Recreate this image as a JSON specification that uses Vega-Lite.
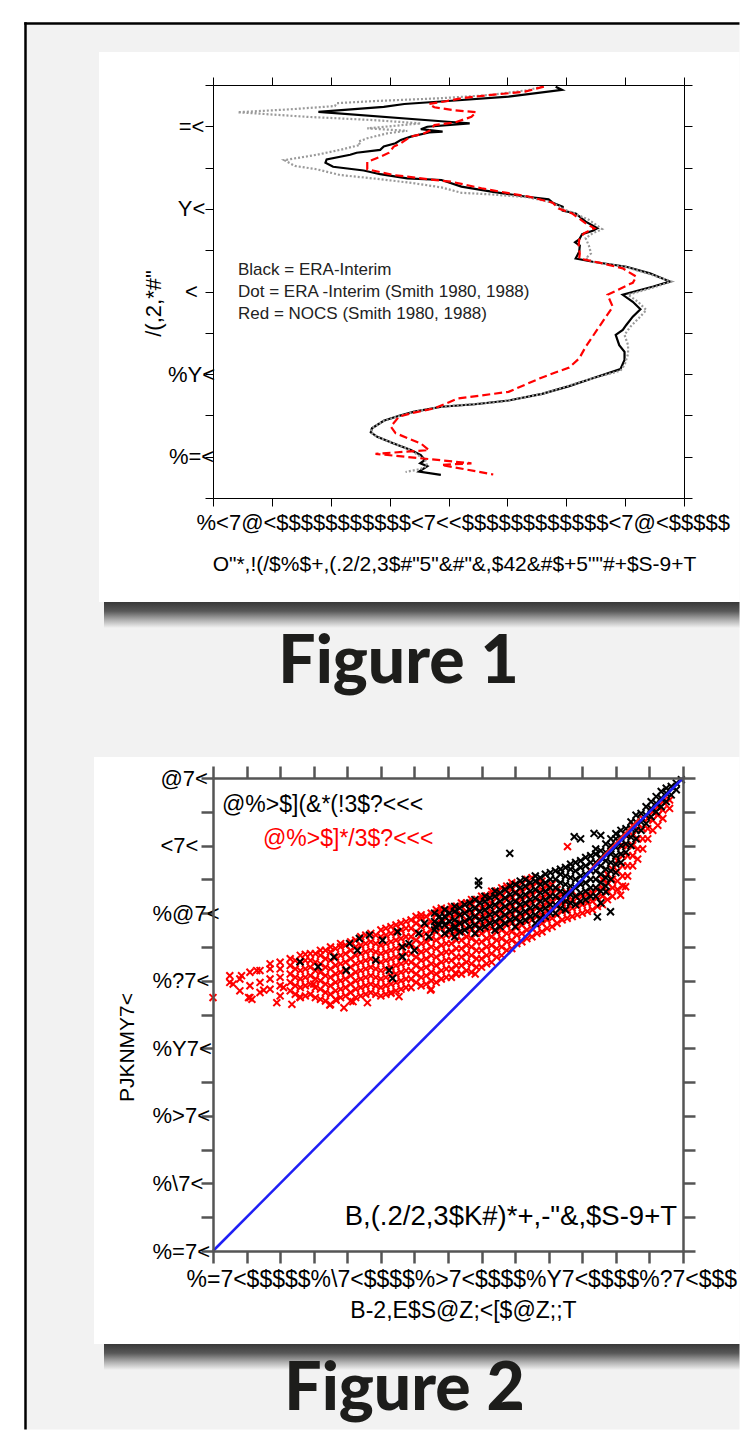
{
  "$schema": "https://vega.github.io/schema/vega-lite/v6.json",
  "padding": 0,
  "background": "white",
  "spacing": 0,
  "config": {
    "view": {"stroke": null},
    "axis": {"grid": false, "labelFont": "Liberation Sans", "titleFont": "Liberation Sans", "labelColor": "black", "titleColor": "black", "titleFontWeight": "normal"}
  },
  "params": [
    {"name": "f1y", "value": ["%=<", "%Y<", "<", "Y<", "=<"]},
    {"name": "f1xrow", "value": "%<7@<$$$$$$$$$$$<7<<$$$$$$$$$$$$<7@<$$$$$"},
    {"name": "f2y", "value": ["%=7<", "%\\7<", "%>7<", "%Y7<", "%?7<", "%@7<", "<7<", "@7<"]},
    {"name": "f2xrow", "value": "%=7<$$$$$%\\7<$$$$%>7<$$$$%Y7<$$$$%?7<$$$"}
  ],
  "datasets": {
    "fig1": [
      {"s":"k","i":1,"x":5.82,"y":49.6},{"s":"k","i":2,"x":5.93,"y":48.8},{"s":"k","i":3,"x":5.02,"y":47.2},{"s":"k","i":4,"x":3.87,"y":46.0},{"s":"k","i":5,"x":3.25,"y":45.4},{"s":"k","i":6,"x":2.90,"y":44.7},{"s":"k","i":7,"x":1.79,"y":43.5},{"s":"k","i":8,"x":3.99,"y":41.1},{"s":"k","i":9,"x":4.36,"y":40.7},{"s":"k","i":10,"x":3.64,"y":39.9},{"s":"k","i":11,"x":3.53,"y":39.3},{"s":"k","i":12,"x":3.90,"y":38.7},{"s":"k","i":13,"x":3.67,"y":38.5},{"s":"k","i":14,"x":3.36,"y":37.5},{"s":"k","i":15,"x":3.19,"y":36.7},{"s":"k","i":16,"x":3.10,"y":35.9},{"s":"k","i":17,"x":2.90,"y":35.1},{"s":"k","i":18,"x":2.84,"y":34.3},{"s":"k","i":19,"x":2.44,"y":33.6},{"s":"k","i":20,"x":2.33,"y":33.1},{"s":"k","i":21,"x":1.93,"y":32.0},{"s":"k","i":22,"x":1.91,"y":31.2},{"s":"k","i":23,"x":2.04,"y":30.2},{"s":"k","i":24,"x":2.56,"y":29.3},{"s":"k","i":25,"x":2.84,"y":28.4},{"s":"k","i":26,"x":3.30,"y":27.4},{"s":"k","i":27,"x":3.88,"y":27.0},{"s":"k","i":28,"x":4.22,"y":25.4},{"s":"k","i":29,"x":4.73,"y":24.2},{"s":"k","i":30,"x":5.30,"y":23.0},{"s":"k","i":31,"x":5.70,"y":22.3},{"s":"k","i":32,"x":5.77,"y":21.5},{"s":"k","i":33,"x":5.94,"y":20.5},{"s":"k","i":34,"x":5.94,"y":19.6},{"s":"k","i":35,"x":6.16,"y":18.9},{"s":"k","i":36,"x":6.33,"y":16.9},{"s":"k","i":37,"x":6.53,"y":15.3},{"s":"k","i":38,"x":6.45,"y":14.7},{"s":"k","i":39,"x":6.27,"y":13.9},{"s":"k","i":40,"x":6.22,"y":12.6},{"s":"k","i":41,"x":6.15,"y":11.9},{"s":"k","i":42,"x":6.23,"y":11.1},{"s":"k","i":43,"x":6.22,"y":9.6},{"s":"k","i":44,"x":6.16,"y":8.0},{"s":"k","i":45,"x":6.45,"y":7.2},{"s":"k","i":46,"x":7.02,"y":6.0},{"s":"k","i":47,"x":7.42,"y":4.4},{"s":"k","i":48,"x":7.76,"y":2.4},{"s":"k","i":49,"x":7.48,"y":1.2},{"s":"k","i":50,"x":6.96,"y":-0.8},{"s":"k","i":51,"x":7.13,"y":-2.5},{"s":"k","i":52,"x":7.26,"y":-4.3},{"s":"k","i":53,"x":7.13,"y":-6.1},{"s":"k","i":54,"x":7.02,"y":-8.1},{"s":"k","i":55,"x":6.96,"y":-9.3},{"s":"k","i":56,"x":6.84,"y":-10.5},{"s":"k","i":57,"x":6.90,"y":-13.0},{"s":"k","i":58,"x":6.99,"y":-14.6},{"s":"k","i":59,"x":6.99,"y":-16.6},{"s":"k","i":60,"x":6.92,"y":-18.8},{"s":"k","i":61,"x":6.73,"y":-19.7},{"s":"k","i":62,"x":6.45,"y":-21.0},{"s":"k","i":63,"x":6.05,"y":-22.9},{"s":"k","i":64,"x":5.59,"y":-24.8},{"s":"k","i":65,"x":5.02,"y":-26.4},{"s":"k","i":66,"x":4.45,"y":-27.3},{"s":"k","i":67,"x":3.88,"y":-27.9},{"s":"k","i":68,"x":3.42,"y":-29.1},{"s":"k","i":69,"x":3.16,"y":-30.1},{"s":"k","i":70,"x":2.90,"y":-31.3},{"s":"k","i":71,"x":2.70,"y":-33.1},{"s":"k","i":72,"x":2.68,"y":-34.1},{"s":"k","i":73,"x":2.79,"y":-35.2},{"s":"k","i":74,"x":3.07,"y":-36.8},{"s":"k","i":75,"x":3.36,"y":-38.4},{"s":"k","i":76,"x":3.53,"y":-39.6},{"s":"k","i":77,"x":3.60,"y":-40.8},{"s":"k","i":78,"x":3.52,"y":-41.6},{"s":"k","i":79,"x":3.64,"y":-42.3},{"s":"k","i":80,"x":3.50,"y":-43.6},{"s":"k","i":81,"x":3.87,"y":-44.4},
      {"s":"d","i":1,"x":5.59,"y":49.6},{"s":"d","i":2,"x":5.36,"y":48.8},{"s":"d","i":3,"x":4.73,"y":47.6},{"s":"d","i":4,"x":3.87,"y":46.8},{"s":"d","i":5,"x":2.73,"y":46.1},{"s":"d","i":6,"x":2.10,"y":45.6},{"s":"d","i":7,"x":2.07,"y":44.9},{"s":"d","i":8,"x":1.30,"y":44.1},{"s":"d","i":9,"x":0.42,"y":43.4},{"s":"d","i":10,"x":1.59,"y":42.3},{"s":"d","i":11,"x":2.73,"y":41.5},{"s":"d","i":12,"x":3.53,"y":40.7},{"s":"d","i":13,"x":2.62,"y":39.5},{"s":"d","i":14,"x":3.30,"y":38.9},{"s":"d","i":15,"x":2.96,"y":38.3},{"s":"d","i":16,"x":2.62,"y":37.1},{"s":"d","i":17,"x":2.47,"y":36.3},{"s":"d","i":18,"x":2.50,"y":35.5},{"s":"d","i":19,"x":2.16,"y":34.3},{"s":"d","i":20,"x":1.76,"y":33.1},{"s":"d","i":21,"x":1.21,"y":31.8},{"s":"d","i":22,"x":1.39,"y":30.4},{"s":"d","i":23,"x":1.76,"y":29.6},{"s":"d","i":24,"x":2.16,"y":28.2},{"s":"d","i":25,"x":2.84,"y":27.2},{"s":"d","i":26,"x":3.42,"y":26.2},{"s":"d","i":27,"x":3.88,"y":25.2},{"s":"d","i":28,"x":4.22,"y":23.9},{"s":"d","i":29,"x":4.73,"y":23.5},{"s":"d","i":30,"x":5.36,"y":22.8},{"s":"d","i":31,"x":5.77,"y":21.5},{"s":"d","i":32,"x":5.96,"y":19.9},{"s":"d","i":33,"x":6.16,"y":18.8},{"s":"d","i":34,"x":6.39,"y":17.3},{"s":"d","i":35,"x":6.61,"y":15.1},{"s":"d","i":36,"x":6.45,"y":14.1},{"s":"d","i":37,"x":6.33,"y":12.9},{"s":"d","i":38,"x":6.39,"y":10.9},{"s":"d","i":39,"x":6.42,"y":9.2},{"s":"d","i":40,"x":6.33,"y":8.0},{"s":"d","i":41,"x":6.45,"y":7.2},{"s":"d","i":42,"x":7.02,"y":5.9},{"s":"d","i":43,"x":7.42,"y":4.2},{"s":"d","i":44,"x":7.79,"y":2.4},{"s":"d","i":45,"x":7.53,"y":1.2},{"s":"d","i":46,"x":7.05,"y":-0.8},{"s":"d","i":47,"x":7.22,"y":-2.5},{"s":"d","i":48,"x":7.36,"y":-4.5},{"s":"d","i":49,"x":7.25,"y":-6.2},{"s":"d","i":50,"x":7.09,"y":-8.5},{"s":"d","i":51,"x":6.99,"y":-10.5},{"s":"d","i":52,"x":7.05,"y":-13.0},{"s":"d","i":53,"x":7.05,"y":-15.1},{"s":"d","i":54,"x":6.99,"y":-17.8},{"s":"d","i":55,"x":6.92,"y":-19.2},{"s":"d","i":56,"x":6.45,"y":-21.0},{"s":"d","i":57,"x":5.59,"y":-24.8},{"s":"d","i":58,"x":4.90,"y":-26.7},{"s":"d","i":59,"x":3.88,"y":-27.9},{"s":"d","i":60,"x":3.42,"y":-29.1},{"s":"d","i":61,"x":2.90,"y":-31.3},{"s":"d","i":62,"x":2.70,"y":-33.1},{"s":"d","i":63,"x":2.68,"y":-34.1},{"s":"d","i":64,"x":2.79,"y":-35.2},{"s":"d","i":65,"x":3.36,"y":-38.4},{"s":"d","i":66,"x":3.60,"y":-40.8},{"s":"d","i":67,"x":3.64,"y":-42.2},{"s":"d","i":68,"x":3.52,"y":-43.0},{"s":"d","i":69,"x":3.27,"y":-43.7},
      {"s":"r","i":1,"x":5.62,"y":49.6},{"s":"r","i":2,"x":5.30,"y":48.4},{"s":"r","i":3,"x":4.73,"y":47.6},{"s":"r","i":4,"x":4.22,"y":46.8},{"s":"r","i":5,"x":3.93,"y":46.0},{"s":"r","i":6,"x":3.67,"y":45.4},{"s":"r","i":7,"x":3.76,"y":44.6},{"s":"r","i":8,"x":4.10,"y":43.9},{"s":"r","i":9,"x":4.47,"y":43.4},{"s":"r","i":10,"x":4.39,"y":42.3},{"s":"r","i":11,"x":4.10,"y":40.9},{"s":"r","i":12,"x":3.76,"y":40.3},{"s":"r","i":13,"x":3.70,"y":39.1},{"s":"r","i":14,"x":3.59,"y":38.3},{"s":"r","i":15,"x":3.36,"y":37.5},{"s":"r","i":16,"x":3.19,"y":35.9},{"s":"r","i":17,"x":3.07,"y":35.1},{"s":"r","i":18,"x":2.99,"y":33.6},{"s":"r","i":19,"x":2.84,"y":32.6},{"s":"r","i":20,"x":2.62,"y":31.4},{"s":"r","i":21,"x":2.62,"y":29.6},{"s":"r","i":22,"x":3.07,"y":28.2},{"s":"r","i":23,"x":3.64,"y":27.2},{"s":"r","i":24,"x":4.04,"y":26.6},{"s":"r","i":25,"x":4.56,"y":25.0},{"s":"r","i":26,"x":5.02,"y":23.8},{"s":"r","i":27,"x":5.36,"y":23.0},{"s":"r","i":28,"x":5.77,"y":21.5},{"s":"r","i":29,"x":5.87,"y":20.1},{"s":"r","i":30,"x":6.10,"y":18.9},{"s":"r","i":31,"x":6.33,"y":16.5},{"s":"r","i":32,"x":6.48,"y":15.3},{"s":"r","i":33,"x":6.30,"y":14.1},{"s":"r","i":34,"x":6.22,"y":12.6},{"s":"r","i":35,"x":6.21,"y":10.9},{"s":"r","i":36,"x":6.23,"y":9.2},{"s":"r","i":37,"x":6.22,"y":8.0},{"s":"r","i":38,"x":6.62,"y":6.8},{"s":"r","i":39,"x":6.96,"y":5.6},{"s":"r","i":40,"x":7.19,"y":3.6},{"s":"r","i":41,"x":7.13,"y":2.1},{"s":"r","i":42,"x":7.08,"y":1.8},{"s":"r","i":43,"x":6.70,"y":-0.8},{"s":"r","i":44,"x":6.79,"y":-3.7},{"s":"r","i":45,"x":6.56,"y":-8.5},{"s":"r","i":46,"x":6.33,"y":-13.4},{"s":"r","i":47,"x":6.22,"y":-16.2},{"s":"r","i":48,"x":6.05,"y":-18.4},{"s":"r","i":49,"x":5.59,"y":-20.8},{"s":"r","i":50,"x":5.02,"y":-24.3},{"s":"r","i":51,"x":4.16,"y":-25.9},{"s":"r","i":52,"x":3.76,"y":-28.3},{"s":"r","i":53,"x":3.36,"y":-29.5},{"s":"r","i":54,"x":3.16,"y":-30.3},{"s":"r","i":55,"x":3.02,"y":-32.7},{"s":"r","i":56,"x":3.10,"y":-34.3},{"s":"r","i":57,"x":3.53,"y":-36.8},{"s":"r","i":58,"x":3.67,"y":-38.4},{"s":"r","i":59,"x":2.76,"y":-39.3},{"s":"r","i":60,"x":4.39,"y":-41.6},{"s":"r","i":61,"x":3.88,"y":-42.0},{"s":"r","i":62,"x":4.76,"y":-44.3}
    ],
    "f2r": [
      {"x":0,"y":7.5},{"x":0.6,"y":7.9},{"x":0.85,"y":8.15},{"x":1.06,"y":7.5},{"x":1.16,"y":7.45},{"x":1.51,"y":7.72},{"x":1.3,"y":8.3},{"x":2.1,"y":7.8},{"x":2.59,"y":7.52},{"x":3.0,"y":7.9},{"x":3.48,"y":7.28},{"x":3.67,"y":7.42},{"x":4.17,"y":7.38},{"x":5.3,"y":7.63},{"x":5.54,"y":7.53},{"x":6.48,"y":7.72},{"x":7.22,"y":8.22},{"x":7.81,"y":8.2},{"x":12.29,"y":10.78},{"x":12.14,"y":10.53},{"x":10.56,"y":11.97},{"x":1.9,"y":7.35},{"x":2.35,"y":7.3},{"x":4.6,"y":7.35},{"x":3.9,"y":7.2},
      {"x":0.5,"y":7.95},{"x":0.5,"y":8.15},
      {"x":0.8,"y":7.7},{"x":0.8,"y":8.05},
      {"x":1.1,"y":7.5},{"x":1.1,"y":7.85},{"x":1.1,"y":8.25},
      {"x":1.4,"y":7.65},{"x":1.4,"y":7.95},{"x":1.4,"y":8.3},
      {"x":1.7,"y":7.75},{"x":1.7,"y":8.05},{"x":1.7,"y":8.35},{"x":1.7,"y":8.5},
      {"x":2.0,"y":7.55},{"x":2.0,"y":7.85},{"x":2.0,"y":8.1},{"x":2.0,"y":8.35},{"x":2.0,"y":8.55},
      {"x":2.3,"y":7.7},{"x":2.3,"y":7.95},{"x":2.3,"y":8.2},{"x":2.3,"y":8.45},{"x":2.3,"y":8.65},
      {"x":2.6,"y":7.5},{"x":2.6,"y":7.8},{"x":2.6,"y":8.05},{"x":2.6,"y":8.3},{"x":2.6,"y":8.55},{"x":2.6,"y":8.75},
      {"x":2.9,"y":7.6},{"x":2.9,"y":7.9},{"x":2.9,"y":8.15},{"x":2.9,"y":8.4},{"x":2.9,"y":8.6},{"x":2.9,"y":8.8},
      {"x":3.2,"y":7.45},{"x":3.2,"y":7.75},{"x":3.2,"y":8.0},{"x":3.2,"y":8.25},{"x":3.2,"y":8.5},{"x":3.2,"y":8.75},{"x":3.2,"y":8.9},
      {"x":3.5,"y":7.3},{"x":3.5,"y":7.6},{"x":3.5,"y":7.85},{"x":3.5,"y":8.1},{"x":3.5,"y":8.35},{"x":3.5,"y":8.6},{"x":3.5,"y":8.85},{"x":3.5,"y":9.0},
      {"x":3.8,"y":7.5},{"x":3.8,"y":7.75},{"x":3.8,"y":8.0},{"x":3.8,"y":8.25},{"x":3.8,"y":8.5},{"x":3.8,"y":8.75},{"x":3.8,"y":9.0},{"x":3.8,"y":9.1},
      {"x":4.1,"y":7.4},{"x":4.1,"y":7.65},{"x":4.1,"y":7.9},{"x":4.1,"y":8.15},{"x":4.1,"y":8.4},{"x":4.1,"y":8.65},{"x":4.1,"y":8.9},{"x":4.1,"y":9.15},
      {"x":4.4,"y":7.55},{"x":4.4,"y":7.8},{"x":4.4,"y":8.05},{"x":4.4,"y":8.3},{"x":4.4,"y":8.55},{"x":4.4,"y":8.8},{"x":4.4,"y":9.05},{"x":4.4,"y":9.3},
      {"x":4.7,"y":7.65},{"x":4.7,"y":7.9},{"x":4.7,"y":8.15},{"x":4.7,"y":8.4},{"x":4.7,"y":8.65},{"x":4.7,"y":8.9},{"x":4.7,"y":9.15},{"x":4.7,"y":9.4},
      {"x":5.0,"y":7.55},{"x":5.0,"y":7.8},{"x":5.0,"y":8.05},{"x":5.0,"y":8.3},{"x":5.0,"y":8.55},{"x":5.0,"y":8.8},{"x":5.0,"y":9.05},{"x":5.0,"y":9.3},{"x":5.0,"y":9.5},
      {"x":5.3,"y":7.65},{"x":5.3,"y":7.9},{"x":5.3,"y":8.15},{"x":5.3,"y":8.4},{"x":5.3,"y":8.65},{"x":5.3,"y":8.9},{"x":5.3,"y":9.15},{"x":5.3,"y":9.4},{"x":5.3,"y":9.6},
      {"x":5.6,"y":7.75},{"x":5.6,"y":8.0},{"x":5.6,"y":8.25},{"x":5.6,"y":8.5},{"x":5.6,"y":8.75},{"x":5.6,"y":9.0},{"x":5.6,"y":9.25},{"x":5.6,"y":9.5},{"x":5.6,"y":9.7},
      {"x":5.9,"y":7.8},{"x":5.9,"y":8.05},{"x":5.9,"y":8.3},{"x":5.9,"y":8.55},{"x":5.9,"y":8.8},{"x":5.9,"y":9.05},{"x":5.9,"y":9.3},{"x":5.9,"y":9.55},{"x":5.9,"y":9.8},
      {"x":6.2,"y":7.85},{"x":6.2,"y":8.1},{"x":6.2,"y":8.35},{"x":6.2,"y":8.6},{"x":6.2,"y":8.85},{"x":6.2,"y":9.1},{"x":6.2,"y":9.35},{"x":6.2,"y":9.6},{"x":6.2,"y":9.85},{"x":6.2,"y":9.95},
      {"x":6.5,"y":7.75},{"x":6.5,"y":8.0},{"x":6.5,"y":8.25},{"x":6.5,"y":8.5},{"x":6.5,"y":8.75},{"x":6.5,"y":9.0},{"x":6.5,"y":9.25},{"x":6.5,"y":9.5},{"x":6.5,"y":9.75},{"x":6.5,"y":10.0},
      {"x":6.8,"y":8.05},{"x":6.8,"y":8.3},{"x":6.8,"y":8.55},{"x":6.8,"y":8.8},{"x":6.8,"y":9.05},{"x":6.8,"y":9.3},{"x":6.8,"y":9.55},{"x":6.8,"y":9.8},{"x":6.8,"y":10.05},{"x":6.8,"y":10.15},
      {"x":7.1,"y":8.1},{"x":7.1,"y":8.35},{"x":7.1,"y":8.6},{"x":7.1,"y":8.85},{"x":7.1,"y":9.1},{"x":7.1,"y":9.35},{"x":7.1,"y":9.6},{"x":7.1,"y":9.85},{"x":7.1,"y":10.1},{"x":7.1,"y":10.2},
      {"x":7.4,"y":8.2},{"x":7.4,"y":8.45},{"x":7.4,"y":8.7},{"x":7.4,"y":8.95},{"x":7.4,"y":9.2},{"x":7.4,"y":9.45},{"x":7.4,"y":9.7},{"x":7.4,"y":9.95},{"x":7.4,"y":10.2},{"x":7.4,"y":10.3},
      {"x":7.7,"y":8.25},{"x":7.7,"y":8.5},{"x":7.7,"y":8.75},{"x":7.7,"y":9.0},{"x":7.7,"y":9.25},{"x":7.7,"y":9.5},{"x":7.7,"y":9.75},{"x":7.7,"y":10.0},{"x":7.7,"y":10.25},{"x":7.7,"y":10.4},
      {"x":8.0,"y":8.4},{"x":8.0,"y":8.65},{"x":8.0,"y":8.9},{"x":8.0,"y":9.15},{"x":8.0,"y":9.4},{"x":8.0,"y":9.65},{"x":8.0,"y":9.9},{"x":8.0,"y":10.15},{"x":8.0,"y":10.4},{"x":8.0,"y":10.5},
      {"x":8.3,"y":8.55},{"x":8.3,"y":8.8},{"x":8.3,"y":9.05},{"x":8.3,"y":9.3},{"x":8.3,"y":9.55},{"x":8.3,"y":9.8},{"x":8.3,"y":10.05},{"x":8.3,"y":10.3},{"x":8.3,"y":10.55},{"x":8.3,"y":10.65},
      {"x":8.6,"y":8.75},{"x":8.6,"y":9.0},{"x":8.6,"y":9.25},{"x":8.6,"y":9.5},{"x":8.6,"y":9.75},{"x":8.6,"y":10.0},{"x":8.6,"y":10.25},{"x":8.6,"y":10.5},{"x":8.6,"y":10.75},
      {"x":8.9,"y":8.95},{"x":8.9,"y":9.2},{"x":8.9,"y":9.45},{"x":8.9,"y":9.7},{"x":8.9,"y":9.95},{"x":8.9,"y":10.2},{"x":8.9,"y":10.45},{"x":8.9,"y":10.7},{"x":8.9,"y":10.9},
      {"x":9.2,"y":9.15},{"x":9.2,"y":9.4},{"x":9.2,"y":9.65},{"x":9.2,"y":9.9},{"x":9.2,"y":10.15},{"x":9.2,"y":10.4},{"x":9.2,"y":10.65},{"x":9.2,"y":10.9},
      {"x":9.5,"y":9.3},{"x":9.5,"y":9.55},{"x":9.5,"y":9.8},{"x":9.5,"y":10.05},{"x":9.5,"y":10.3},{"x":9.5,"y":10.55},{"x":9.5,"y":10.8},{"x":9.5,"y":11.05},
      {"x":9.8,"y":9.45},{"x":9.8,"y":9.7},{"x":9.8,"y":9.95},{"x":9.8,"y":10.2},{"x":9.8,"y":10.45},{"x":9.8,"y":10.7},{"x":9.8,"y":10.95},
      {"x":10.1,"y":9.6},{"x":10.1,"y":9.85},{"x":10.1,"y":10.1},{"x":10.1,"y":10.35},{"x":10.1,"y":10.6},{"x":10.1,"y":10.85},
      {"x":10.4,"y":9.8},{"x":10.4,"y":10.05},{"x":10.4,"y":10.3},{"x":10.4,"y":10.55},
      {"x":10.7,"y":9.9},{"x":10.7,"y":10.15},{"x":10.7,"y":10.4},{"x":10.7,"y":10.65},
      {"x":11.0,"y":10.0},{"x":11.0,"y":10.25},{"x":11.0,"y":10.5},
      {"x":11.3,"y":10.1},{"x":11.3,"y":10.35},{"x":11.3,"y":10.6},
      {"x":11.6,"y":10.25},{"x":11.6,"y":10.5},{"x":11.6,"y":10.75},{"x":11.6,"y":11.0},
      {"x":11.9,"y":10.5},{"x":11.9,"y":10.75},{"x":11.9,"y":11.0},{"x":11.9,"y":11.3},
      {"x":12.2,"y":10.8},{"x":12.2,"y":11.1},{"x":12.2,"y":11.4},{"x":12.2,"y":11.7},{"x":12.2,"y":12.0},
      {"x":12.5,"y":11.4},{"x":12.5,"y":11.7},{"x":12.5,"y":12.0},{"x":12.5,"y":12.3},{"x":12.5,"y":12.6},
      {"x":12.8,"y":11.9},{"x":12.8,"y":12.2},{"x":12.8,"y":12.5},{"x":12.8,"y":12.8},
      {"x":13.1,"y":12.45},{"x":13.1,"y":12.75},{"x":13.1,"y":13.0},
      {"x":13.4,"y":12.8},{"x":13.4,"y":13.05},{"x":13.4,"y":13.3},
      {"x":13.6,"y":13.1},{"x":13.6,"y":13.35},
      {"x":2.45,"y":7.6},{"x":2.45,"y":7.85},{"x":2.45,"y":8.1},{"x":2.45,"y":8.35},{"x":2.45,"y":8.6},
      {"x":2.75,"y":7.55},{"x":2.75,"y":7.85},{"x":2.75,"y":8.1},{"x":2.75,"y":8.35},{"x":2.75,"y":8.6},{"x":2.75,"y":8.78},
      {"x":3.05,"y":7.5},{"x":3.05,"y":7.8},{"x":3.05,"y":8.05},{"x":3.05,"y":8.3},{"x":3.05,"y":8.55},{"x":3.05,"y":8.8},
      {"x":3.35,"y":7.4},{"x":3.35,"y":7.65},{"x":3.35,"y":7.9},{"x":3.35,"y":8.15},{"x":3.35,"y":8.4},{"x":3.35,"y":8.65},{"x":3.35,"y":8.9},
      {"x":3.65,"y":7.45},{"x":3.65,"y":7.7},{"x":3.65,"y":7.95},{"x":3.65,"y":8.2},{"x":3.65,"y":8.45},{"x":3.65,"y":8.7},{"x":3.65,"y":8.95},
      {"x":3.95,"y":7.55},{"x":3.95,"y":7.8},{"x":3.95,"y":8.05},{"x":3.95,"y":8.3},{"x":3.95,"y":8.55},{"x":3.95,"y":8.8},{"x":3.95,"y":9.05},
      {"x":4.25,"y":7.5},{"x":4.25,"y":7.75},{"x":4.25,"y":8.0},{"x":4.25,"y":8.25},{"x":4.25,"y":8.5},{"x":4.25,"y":8.75},{"x":4.25,"y":9.0},{"x":4.25,"y":9.2},
      {"x":4.55,"y":7.6},{"x":4.55,"y":7.85},{"x":4.55,"y":8.1},{"x":4.55,"y":8.35},{"x":4.55,"y":8.6},{"x":4.55,"y":8.85},{"x":4.55,"y":9.1},{"x":4.55,"y":9.35},
      {"x":4.85,"y":7.6},{"x":4.85,"y":7.85},{"x":4.85,"y":8.1},{"x":4.85,"y":8.35},{"x":4.85,"y":8.6},{"x":4.85,"y":8.85},{"x":4.85,"y":9.1},{"x":4.85,"y":9.35},
      {"x":5.15,"y":7.6},{"x":5.15,"y":7.85},{"x":5.15,"y":8.1},{"x":5.15,"y":8.35},{"x":5.15,"y":8.6},{"x":5.15,"y":8.85},{"x":5.15,"y":9.1},{"x":5.15,"y":9.35},{"x":5.15,"y":9.55},
      {"x":5.45,"y":7.7},{"x":5.45,"y":7.95},{"x":5.45,"y":8.2},{"x":5.45,"y":8.45},{"x":5.45,"y":8.7},{"x":5.45,"y":8.95},{"x":5.45,"y":9.2},{"x":5.45,"y":9.45},{"x":5.45,"y":9.65},
      {"x":5.75,"y":7.8},{"x":5.75,"y":8.05},{"x":5.75,"y":8.3},{"x":5.75,"y":8.55},{"x":5.75,"y":8.8},{"x":5.75,"y":9.05},{"x":5.75,"y":9.3},{"x":5.75,"y":9.55},{"x":5.75,"y":9.75},
      {"x":6.05,"y":7.95},{"x":6.05,"y":8.2},{"x":6.05,"y":8.45},{"x":6.05,"y":8.7},{"x":6.05,"y":8.95},{"x":6.05,"y":9.2},{"x":6.05,"y":9.45},{"x":6.05,"y":9.7},{"x":6.05,"y":9.9},
      {"x":6.35,"y":7.9},{"x":6.35,"y":8.15},{"x":6.35,"y":8.4},{"x":6.35,"y":8.65},{"x":6.35,"y":8.9},{"x":6.35,"y":9.15},{"x":6.35,"y":9.4},{"x":6.35,"y":9.65},{"x":6.35,"y":9.9},
      {"x":6.65,"y":7.95},{"x":6.65,"y":8.2},{"x":6.65,"y":8.45},{"x":6.65,"y":8.7},{"x":6.65,"y":8.95},{"x":6.65,"y":9.2},{"x":6.65,"y":9.45},{"x":6.65,"y":9.7},{"x":6.65,"y":9.95},{"x":6.65,"y":10.1},
      {"x":6.95,"y":8.1},{"x":6.95,"y":8.35},{"x":6.95,"y":8.6},{"x":6.95,"y":8.85},{"x":6.95,"y":9.1},{"x":6.95,"y":9.35},{"x":6.95,"y":9.6},{"x":6.95,"y":9.85},{"x":6.95,"y":10.1},
      {"x":7.25,"y":8.2},{"x":7.25,"y":8.45},{"x":7.25,"y":8.7},{"x":7.25,"y":8.95},{"x":7.25,"y":9.2},{"x":7.25,"y":9.45},{"x":7.25,"y":9.7},{"x":7.25,"y":9.95},{"x":7.25,"y":10.2},
      {"x":7.55,"y":8.3},{"x":7.55,"y":8.55},{"x":7.55,"y":8.8},{"x":7.55,"y":9.05},{"x":7.55,"y":9.3},{"x":7.55,"y":9.55},{"x":7.55,"y":9.8},{"x":7.55,"y":10.05},{"x":7.55,"y":10.3},
      {"x":7.85,"y":8.4},{"x":7.85,"y":8.65},{"x":7.85,"y":8.9},{"x":7.85,"y":9.15},{"x":7.85,"y":9.4},{"x":7.85,"y":9.65},{"x":7.85,"y":9.9},{"x":7.85,"y":10.15},{"x":7.85,"y":10.4},
      {"x":8.15,"y":8.5},{"x":8.15,"y":8.75},{"x":8.15,"y":9.0},{"x":8.15,"y":9.25},{"x":8.15,"y":9.5},{"x":8.15,"y":9.75},{"x":8.15,"y":10.0},{"x":8.15,"y":10.25},{"x":8.15,"y":10.5},
      {"x":8.45,"y":8.7},{"x":8.45,"y":8.95},{"x":8.45,"y":9.2},{"x":8.45,"y":9.45},{"x":8.45,"y":9.7},{"x":8.45,"y":9.95},{"x":8.45,"y":10.2},{"x":8.45,"y":10.45},{"x":8.45,"y":10.65},
      {"x":8.75,"y":8.9},{"x":8.75,"y":9.15},{"x":8.75,"y":9.4},{"x":8.75,"y":9.65},{"x":8.75,"y":9.9},{"x":8.75,"y":10.15},{"x":8.75,"y":10.4},{"x":8.75,"y":10.65},{"x":8.75,"y":10.8},
      {"x":9.05,"y":9.1},{"x":9.05,"y":9.35},{"x":9.05,"y":9.6},{"x":9.05,"y":9.85},{"x":9.05,"y":10.1},{"x":9.05,"y":10.35},{"x":9.05,"y":10.6},{"x":9.05,"y":10.85},
      {"x":9.35,"y":9.25},{"x":9.35,"y":9.5},{"x":9.35,"y":9.75},{"x":9.35,"y":10.0},{"x":9.35,"y":10.25},{"x":9.35,"y":10.5},{"x":9.35,"y":10.75},{"x":9.35,"y":11.0},
      {"x":9.65,"y":9.4},{"x":9.65,"y":9.65},{"x":9.65,"y":9.9},{"x":9.65,"y":10.15},{"x":9.65,"y":10.4},{"x":9.65,"y":10.65},{"x":9.65,"y":10.9},
      {"x":9.95,"y":9.55},{"x":9.95,"y":9.8},{"x":9.95,"y":10.05},{"x":9.95,"y":10.3},{"x":9.95,"y":10.55},{"x":9.95,"y":10.8},
      {"x":10.25,"y":9.7},{"x":10.25,"y":9.95},{"x":10.25,"y":10.2},{"x":10.25,"y":10.45},{"x":10.25,"y":10.7},
      {"x":10.55,"y":9.85},{"x":10.55,"y":10.1},{"x":10.55,"y":10.35},{"x":10.55,"y":10.6},
      {"x":10.85,"y":9.95},{"x":10.85,"y":10.2},{"x":10.85,"y":10.45},
      {"x":11.15,"y":10.05},{"x":11.15,"y":10.3},{"x":11.15,"y":10.55},
      {"x":11.45,"y":10.2},{"x":11.45,"y":10.45},{"x":11.45,"y":10.7},
      {"x":11.75,"y":10.4},{"x":11.75,"y":10.65},{"x":11.75,"y":10.9},{"x":11.75,"y":11.15},
      {"x":12.05,"y":10.7},{"x":12.05,"y":10.95},{"x":12.05,"y":11.25},{"x":12.05,"y":11.55},
      {"x":12.35,"y":11.1},{"x":12.35,"y":11.4},{"x":12.35,"y":11.7},{"x":12.35,"y":12.0},{"x":12.35,"y":12.3},
      {"x":12.65,"y":11.6},{"x":12.65,"y":11.9},{"x":12.65,"y":12.2},{"x":12.65,"y":12.5},
      {"x":12.95,"y":12.2},{"x":12.95,"y":12.5},{"x":12.95,"y":12.8},
      {"x":13.25,"y":12.6},{"x":13.25,"y":12.9},{"x":13.25,"y":13.15}
    ],
    "f2k": [
      {"x":2.59,"y":8.56},{"x":3.13,"y":8.41},{"x":3.97,"y":8.31},{"x":4.07,"y":9.10},{"x":4.36,"y":9.25},{"x":4.66,"y":9.35},{"x":4.85,"y":8.61},{"x":5.05,"y":9.20},{"x":5.25,"y":8.31},{"x":5.35,"y":8.07},{"x":5.64,"y":8.71},{"x":5.64,"y":9.0},{"x":5.84,"y":9.10},{"x":6.13,"y":9.40},{"x":6.43,"y":9.30},{"x":6.63,"y":9.60},{"x":6.82,"y":9.79},{"x":7.22,"y":9.60},{"x":3.6,"y":8.7},{"x":4.3,"y":8.9},{"x":5.5,"y":9.45},{"x":6.0,"y":8.9},{"x":6.3,"y":9.7},
      {"x":6.6,"y":9.5},{"x":6.6,"y":9.75},{"x":6.6,"y":10.0},
      {"x":6.9,"y":9.4},{"x":6.9,"y":9.65},{"x":6.9,"y":9.9},{"x":6.9,"y":10.1},
      {"x":7.2,"y":9.3},{"x":7.2,"y":9.55},{"x":7.2,"y":9.8},{"x":7.2,"y":10.05},{"x":7.2,"y":10.2},
      {"x":7.5,"y":9.5},{"x":7.5,"y":9.75},{"x":7.5,"y":10.0},{"x":7.5,"y":10.25},
      {"x":7.8,"y":9.4},{"x":7.8,"y":9.65},{"x":7.8,"y":9.9},{"x":7.8,"y":10.15},{"x":7.8,"y":10.4},
      {"x":8.1,"y":9.6},{"x":8.1,"y":9.85},{"x":8.1,"y":10.1},{"x":8.1,"y":10.35},{"x":8.1,"y":10.5},
      {"x":8.4,"y":9.5},{"x":8.4,"y":9.75},{"x":8.4,"y":10.0},{"x":8.4,"y":10.25},{"x":8.4,"y":10.5},{"x":8.4,"y":10.65},
      {"x":8.7,"y":9.7},{"x":8.7,"y":9.95},{"x":8.7,"y":10.2},{"x":8.7,"y":10.45},{"x":8.7,"y":10.7},
      {"x":9.0,"y":9.6},{"x":9.0,"y":9.85},{"x":9.0,"y":10.1},{"x":9.0,"y":10.35},{"x":9.0,"y":10.6},{"x":9.0,"y":10.85},
      {"x":9.3,"y":9.8},{"x":9.3,"y":10.05},{"x":9.3,"y":10.3},{"x":9.3,"y":10.55},{"x":9.3,"y":10.8},{"x":9.3,"y":11.0},
      {"x":9.6,"y":9.7},{"x":9.6,"y":9.95},{"x":9.6,"y":10.2},{"x":9.6,"y":10.45},{"x":9.6,"y":10.7},{"x":9.6,"y":10.95},{"x":9.6,"y":11.1},
      {"x":9.9,"y":9.9},{"x":9.9,"y":10.15},{"x":9.9,"y":10.4},{"x":9.9,"y":10.65},{"x":9.9,"y":10.9},{"x":9.9,"y":11.15},
      {"x":10.2,"y":10.0},{"x":10.2,"y":10.25},{"x":10.2,"y":10.5},{"x":10.2,"y":10.75},{"x":10.2,"y":11.0},{"x":10.2,"y":11.25},
      {"x":10.5,"y":10.1},{"x":10.5,"y":10.35},{"x":10.5,"y":10.6},{"x":10.5,"y":10.85},{"x":10.5,"y":11.1},{"x":10.5,"y":11.35},
      {"x":10.8,"y":10.25},{"x":10.8,"y":10.5},{"x":10.8,"y":10.75},{"x":10.8,"y":11.0},{"x":10.8,"y":11.25},{"x":10.8,"y":11.5},
      {"x":11.1,"y":10.4},{"x":11.1,"y":10.65},{"x":11.1,"y":10.9},{"x":11.1,"y":11.15},{"x":11.1,"y":11.4},{"x":11.1,"y":11.65},
      {"x":11.4,"y":10.5},{"x":11.4,"y":10.75},{"x":11.4,"y":11.0},{"x":11.4,"y":11.25},{"x":11.4,"y":11.5},{"x":11.4,"y":11.75},{"x":11.4,"y":11.9},
      {"x":11.7,"y":10.8},{"x":11.7,"y":11.05},{"x":11.7,"y":11.3},{"x":11.7,"y":11.55},{"x":11.7,"y":11.8},{"x":11.7,"y":12.05},
      {"x":12.0,"y":11.2},{"x":12.0,"y":11.45},{"x":12.0,"y":11.7},{"x":12.0,"y":11.95},{"x":12.0,"y":12.2},{"x":12.0,"y":12.35},
      {"x":12.3,"y":11.8},{"x":12.3,"y":12.05},{"x":12.3,"y":12.3},{"x":12.3,"y":12.5},
      {"x":12.6,"y":12.2},{"x":12.6,"y":12.45},{"x":12.6,"y":12.7},{"x":12.6,"y":12.9},
      {"x":12.9,"y":12.65},{"x":12.9,"y":12.9},{"x":12.9,"y":13.15},
      {"x":13.2,"y":13.0},{"x":13.2,"y":13.25},{"x":13.2,"y":13.45},
      {"x":13.5,"y":13.3},{"x":13.5,"y":13.55},{"x":13.5,"y":13.7},
      {"x":13.8,"y":13.65},{"x":13.8,"y":13.85},{"x":13.95,"y":13.95},
      {"x":8.84,"y":11.77},{"x":7.91,"y":10.83},{"x":7.91,"y":10.95},{"x":10.76,"y":12.26},{"x":10.95,"y":12.2},{"x":11.35,"y":12.36},{"x":11.55,"y":12.3},{"x":11.70,"y":10.63},{"x":11.55,"y":10.3},{"x":11.45,"y":9.89},{"x":11.84,"y":10.04},
      {"x":6.75,"y":9.65},{"x":6.75,"y":9.9},
      {"x":7.05,"y":9.5},{"x":7.05,"y":9.75},{"x":7.05,"y":10.0},
      {"x":7.35,"y":9.45},{"x":7.35,"y":9.7},{"x":7.35,"y":9.95},{"x":7.35,"y":10.15},
      {"x":7.65,"y":9.6},{"x":7.65,"y":9.85},{"x":7.65,"y":10.1},{"x":7.65,"y":10.3},
      {"x":7.95,"y":9.55},{"x":7.95,"y":9.8},{"x":7.95,"y":10.05},{"x":7.95,"y":10.3},
      {"x":8.25,"y":9.7},{"x":8.25,"y":9.95},{"x":8.25,"y":10.2},{"x":8.25,"y":10.45},
      {"x":8.55,"y":9.6},{"x":8.55,"y":9.85},{"x":8.55,"y":10.1},{"x":8.55,"y":10.35},{"x":8.55,"y":10.6},
      {"x":8.85,"y":9.8},{"x":8.85,"y":10.05},{"x":8.85,"y":10.3},{"x":8.85,"y":10.55},{"x":8.85,"y":10.8},
      {"x":9.15,"y":9.75},{"x":9.15,"y":10.0},{"x":9.15,"y":10.25},{"x":9.15,"y":10.5},{"x":9.15,"y":10.75},{"x":9.15,"y":10.95},
      {"x":9.45,"y":9.9},{"x":9.45,"y":10.15},{"x":9.45,"y":10.4},{"x":9.45,"y":10.65},{"x":9.45,"y":10.9},
      {"x":9.75,"y":9.85},{"x":9.75,"y":10.1},{"x":9.75,"y":10.35},{"x":9.75,"y":10.6},{"x":9.75,"y":10.85},{"x":9.75,"y":11.05},
      {"x":10.05,"y":10.0},{"x":10.05,"y":10.25},{"x":10.05,"y":10.5},{"x":10.05,"y":10.75},{"x":10.05,"y":11.0},{"x":10.05,"y":11.2},
      {"x":10.35,"y":10.15},{"x":10.35,"y":10.4},{"x":10.35,"y":10.65},{"x":10.35,"y":10.9},{"x":10.35,"y":11.15},{"x":10.35,"y":11.3},
      {"x":10.65,"y":10.3},{"x":10.65,"y":10.55},{"x":10.65,"y":10.8},{"x":10.65,"y":11.05},{"x":10.65,"y":11.3},{"x":10.65,"y":11.45},
      {"x":10.95,"y":10.35},{"x":10.95,"y":10.6},{"x":10.95,"y":10.85},{"x":10.95,"y":11.1},{"x":10.95,"y":11.35},{"x":10.95,"y":11.55},
      {"x":11.25,"y":10.5},{"x":11.25,"y":10.75},{"x":11.25,"y":11.0},{"x":11.25,"y":11.25},{"x":11.25,"y":11.5},{"x":11.25,"y":11.7},
      {"x":11.55,"y":10.65},{"x":11.55,"y":10.9},{"x":11.55,"y":11.15},{"x":11.55,"y":11.4},{"x":11.55,"y":11.65},{"x":11.55,"y":11.85},
      {"x":11.85,"y":11.0},{"x":11.85,"y":11.25},{"x":11.85,"y":11.5},{"x":11.85,"y":11.75},{"x":11.85,"y":12.0},{"x":11.85,"y":12.2},
      {"x":12.15,"y":11.5},{"x":12.15,"y":11.75},{"x":12.15,"y":12.0},{"x":12.15,"y":12.25},{"x":12.15,"y":12.45},
      {"x":12.45,"y":12.0},{"x":12.45,"y":12.25},{"x":12.45,"y":12.5},{"x":12.45,"y":12.7},
      {"x":12.75,"y":12.45},{"x":12.75,"y":12.7},{"x":12.75,"y":12.95},
      {"x":13.05,"y":12.85},{"x":13.05,"y":13.1},{"x":13.05,"y":13.3},
      {"x":13.35,"y":13.15},{"x":13.35,"y":13.4},{"x":13.35,"y":13.6},
      {"x":13.65,"y":13.5},{"x":13.65,"y":13.75}
    ],
    "diag": [{"x":0,"y":0},{"x":14,"y":14}],
    "redseg": [{"x":11.2,"y":11.25},{"x":12.7,"y":12.8}]
  },
  "vconcat": [
    {
      "width": 471,
      "height": 413,
      "resolve": {"axis": {"x": "independent", "y": "independent"}},
      "layer": [
        {
          "data": {"values": [{}]},
          "mark": {"type": "rect", "fill": "white"},
          "encoding": {
            "x": {"datum": -3.61783, "type": "quantitative", "scale": {"domain": [0, 8], "nice": false, "zero": false}, "axis": null},
            "x2": {"datum": 8.94268},
            "y": {"datum": 70.5811, "type": "quantitative", "scale": {"domain": [-50, 50], "nice": false, "zero": false}, "axis": null},
            "y2": {"datum": -103.753}
          }
        },
        {
          "data": {"values": [{}]},
          "mark": {"type": "rect", "fill": "#f2f2f2"},
          "encoding": {
            "x": {"datum": -3.16348, "type": "quantitative", "scale": {"domain": [0, 8], "nice": false, "zero": false}, "axis": null},
            "x2": {"datum": 8.94268},
            "y": {"datum": 64.5884, "type": "quantitative", "scale": {"domain": [-50, 50], "nice": false, "zero": false}, "axis": null},
            "y2": {"datum": -103.753}
          }
        },
        {
          "data": {"values": [{}]},
          "mark": {"type": "rect", "fill": "black"},
          "encoding": {
            "x": {"datum": -3.20594, "type": "quantitative", "scale": {"domain": [0, 8], "nice": false, "zero": false}, "axis": null},
            "x2": {"datum": 8.94268},
            "y": {"datum": 65.1937, "type": "quantitative", "scale": {"domain": [-50, 50], "nice": false, "zero": false}, "axis": null},
            "y2": {"datum": 64.5884}
          }
        },
        {
          "data": {"values": [{}]},
          "mark": {"type": "rect", "fill": "black"},
          "encoding": {
            "x": {"datum": -3.20594, "type": "quantitative", "scale": {"domain": [0, 8], "nice": false, "zero": false}, "axis": null},
            "x2": {"datum": -3.16348},
            "y": {"datum": 65.1937, "type": "quantitative", "scale": {"domain": [-50, 50], "nice": false, "zero": false}, "axis": null},
            "y2": {"datum": -103.753}
          }
        },
        {
          "data": {"values": [{}]},
          "mark": {"type": "rect", "fill": {"gradient": "linear", "x1": 0, "y1": 0, "x2": 0, "y2": 1, "stops": [{"offset": 0, "color": "#383838"}, {"offset": 0.35, "color": "#585858"}, {"offset": 0.7, "color": "#b0b0b0"}, {"offset": 1, "color": "#f2f2f2"}]}},
          "encoding": {
            "x": {"datum": -1.85138, "type": "quantitative", "scale": {"domain": [0, 8], "nice": false, "zero": false}, "axis": null},
            "x2": {"datum": 8.94268},
            "y": {"datum": -75.1816, "type": "quantitative", "scale": {"domain": [-50, 50], "nice": false, "zero": false}, "axis": null},
            "y2": {"datum": -81.4770}
          }
        },
        {
          "data": {"values": [{}]},
          "mark": {"type": "rect", "fill": "white"},
          "encoding": {
            "x": {"datum": -1.93631, "type": "quantitative", "scale": {"domain": [0, 8], "nice": false, "zero": false}, "axis": null},
            "x2": {"datum": 8.94268},
            "y": {"datum": 57.9903, "type": "quantitative", "scale": {"domain": [-50, 50], "nice": false, "zero": false}, "axis": null},
            "y2": {"datum": -75.1816}
          }
        },
        {
          "data": {"name": "fig1"},
          "transform": [{"filter": "datum.s == 'k'"}],
          "mark": {"type": "line", "color": "black", "strokeWidth": 2.2},
          "encoding": {
            "x": {"field": "x", "type": "quantitative", "scale": {"domain": [0, 8], "nice": false, "zero": false},
              "axis": {"zindex": 2, "orient": "bottom", "values": [0,1,2,3,4,5,6,7,8], "tickSize": 8, "tickColor": "black", "tickWidth": 1, "domainColor": "black", "domainWidth": 1,
                "labelExpr": "datum.value == 0 ? f1xrow : ''", "labelAlign": "left", "labelBaseline": "top", "labelOffset": -17, "labelPadding": 6.6, "labelFontSize": 22, "labelLimit": 2000, "labelOverlap": false, "labelFlush": false, "labelBound": false,
                "title": "O\"*,!(/$%$+,(.2/2,3$#\"5\"&#\"&,$42&#$+5\"\"#+$S-9+T", "titleFontSize": 21, "titleX": 241, "titleY": 72, "titleAlign": "center", "titleBaseline": "alphabetic", "titleLimit": 2000}},
            "y": {"field": "y", "type": "quantitative", "scale": {"domain": [-50, 50], "nice": false, "zero": false},
              "axis": {"zindex": 2, "orient": "left", "values": [-50,-40,-30,-20,-10,0,10,20,30,40,50], "tickSize": 8, "tickColor": "black", "tickWidth": 1, "domainColor": "black", "domainWidth": 1,
                "labelExpr": "(datum.value + 40) % 20 == 0 && abs(datum.value) <= 40 ? f1y[(datum.value + 40) / 20] : ''", "labelAlign": "center", "labelBaseline": "middle", "labelPadding": 14, "labelFontSize": 22, "labelOverlap": false, "labelFlush": false, "labelBound": false,
                "title": "/(,2,*#\"", "titleFontSize": 22, "titleAngle": 270, "titleX": -53, "titleY": 218, "titleAlign": "center", "titleBaseline": "alphabetic"}},
            "order": {"field": "i", "type": "quantitative"}
          }
        },
        {
          "data": {"name": "fig1"},
          "transform": [{"filter": "datum.s == 'd'"}],
          "mark": {"type": "line", "color": "#9a9a9a", "strokeWidth": 2.2, "strokeDash": [2, 2]},
          "encoding": {
            "x": {"field": "x", "type": "quantitative", "scale": {"domain": [0, 8], "nice": false, "zero": false},
              "axis": {"zindex": 2, "orient": "top", "values": [0,1,2,3,4,5,6,7,8], "tickSize": 8, "tickColor": "black", "tickWidth": 1, "domainColor": "black", "domainWidth": 1, "labels": false, "title": null}},
            "y": {"field": "y", "type": "quantitative", "scale": {"domain": [-50, 50], "nice": false, "zero": false},
              "axis": {"zindex": 2, "orient": "right", "values": [-50,-40,-30,-20,-10,0,10,20,30,40,50], "tickSize": 8, "tickColor": "black", "tickWidth": 1, "domainColor": "black", "domainWidth": 1, "labels": false, "title": null}},
            "order": {"field": "i", "type": "quantitative"}
          }
        },
        {
          "data": {"name": "fig1"},
          "transform": [{"filter": "datum.s == 'r'"}],
          "mark": {"type": "line", "color": "#ff0000", "strokeWidth": 2.2, "strokeDash": [8, 4]},
          "encoding": {
            "x": {"field": "x", "type": "quantitative", "scale": {"domain": [0, 8], "nice": false, "zero": false}, "axis": null},
            "y": {"field": "y", "type": "quantitative", "scale": {"domain": [-50, 50], "nice": false, "zero": false}, "axis": null},
            "order": {"field": "i", "type": "quantitative"}
          }
        },
        {
          "data": {"values": [{}]},
          "mark": {"type": "text", "text": "Black = ERA-Interim", "align": "left", "baseline": "alphabetic", "font": "Liberation Sans", "fontSize": 17, "color": "#222222"},
          "encoding": {
            "x": {"datum": 0.42463, "type": "quantitative", "scale": {"domain": [0, 8], "nice": false, "zero": false}, "axis": null},
            "y": {"datum": 3.995, "type": "quantitative", "scale": {"domain": [-50, 50], "nice": false, "zero": false}, "axis": null}
          }
        },
        {
          "data": {"values": [{}]},
          "mark": {"type": "text", "text": "Dot = ERA -Interim (Smith 1980, 1988)", "align": "left", "baseline": "alphabetic", "font": "Liberation Sans", "fontSize": 17, "color": "#222222"},
          "encoding": {
            "x": {"datum": 0.42463, "type": "quantitative", "scale": {"domain": [0, 8], "nice": false, "zero": false}, "axis": null},
            "y": {"datum": -1.332, "type": "quantitative", "scale": {"domain": [-50, 50], "nice": false, "zero": false}, "axis": null}
          }
        },
        {
          "data": {"values": [{}]},
          "mark": {"type": "text", "text": "Red = NOCS (Smith 1980, 1988)", "align": "left", "baseline": "alphabetic", "font": "Liberation Sans", "fontSize": 17, "color": "#222222"},
          "encoding": {
            "x": {"datum": 0.42463, "type": "quantitative", "scale": {"domain": [0, 8], "nice": false, "zero": false}, "axis": null},
            "y": {"datum": -6.659, "type": "quantitative", "scale": {"domain": [-50, 50], "nice": false, "zero": false}, "axis": null}
          }
        },
        {
          "data": {"values": [{}]},
          "mark": {"type": "text", "text": "Figure 1", "align": "center", "baseline": "alphabetic", "font": "Lato", "fontWeight": 900, "fontSize": 66, "color": "#1d1d1b"},
          "encoding": {
            "x": {"datum": 3.15074, "type": "quantitative", "scale": {"domain": [0, 8], "nice": false, "zero": false}, "axis": null},
            "y": {"datum": -94.794, "type": "quantitative", "scale": {"domain": [-50, 50], "nice": false, "zero": false}, "axis": null}
          }
        }
      ]
    },
    {
      "width": 470,
      "height": 473,
      "resolve": {"axis": {"x": "independent", "y": "independent"}},
      "layer": [
        {
          "data": {"values": [{}]},
          "mark": {"type": "rect", "fill": "white"},
          "encoding": {
            "x": {"datum": -6.34468, "type": "quantitative", "scale": {"domain": [0, 14], "nice": false, "zero": false}, "axis": null},
            "x2": {"datum": 15.68298},
            "y": {"datum": 15.71670, "type": "quantitative", "scale": {"domain": [0, 14], "nice": false, "zero": false}, "axis": null},
            "y2": {"datum": -5.28330}
          }
        },
        {
          "data": {"values": [{}]},
          "mark": {"type": "rect", "fill": "#f2f2f2"},
          "encoding": {
            "x": {"datum": -5.54787, "type": "quantitative", "scale": {"domain": [0, 14], "nice": false, "zero": false}, "axis": null},
            "x2": {"datum": 15.68298},
            "y": {"datum": 15.71670, "type": "quantitative", "scale": {"domain": [0, 14], "nice": false, "zero": false}, "axis": null},
            "y2": {"datum": -5.28330}
          }
        },
        {
          "data": {"values": [{}]},
          "mark": {"type": "rect", "fill": "black"},
          "encoding": {
            "x": {"datum": -5.62234, "type": "quantitative", "scale": {"domain": [0, 14], "nice": false, "zero": false}, "axis": null},
            "x2": {"datum": -5.54787},
            "y": {"datum": 15.71670, "type": "quantitative", "scale": {"domain": [0, 14], "nice": false, "zero": false}, "axis": null},
            "y2": {"datum": -5.28330}
          }
        },
        {
          "data": {"values": [{}]},
          "mark": {"type": "rect", "fill": {"gradient": "linear", "x1": 0, "y1": 0, "x2": 0, "y2": 1, "stops": [{"offset": 0, "color": "#383838"}, {"offset": 0.35, "color": "#585858"}, {"offset": 0.7, "color": "#b0b0b0"}, {"offset": 1, "color": "#f2f2f2"}]}},
          "encoding": {
            "x": {"datum": -3.24681, "type": "quantitative", "scale": {"domain": [0, 14], "nice": false, "zero": false}, "axis": null},
            "x2": {"datum": 15.68298},
            "y": {"datum": -2.75264, "type": "quantitative", "scale": {"domain": [0, 14], "nice": false, "zero": false}, "axis": null},
            "y2": {"datum": -3.52220}
          }
        },
        {
          "data": {"values": [{}]},
          "mark": {"type": "rect", "fill": "white"},
          "encoding": {
            "x": {"datum": -3.54468, "type": "quantitative", "scale": {"domain": [0, 14], "nice": false, "zero": false}, "axis": null},
            "x2": {"datum": 15.68298},
            "y": {"datum": 14.62164, "type": "quantitative", "scale": {"domain": [0, 14], "nice": false, "zero": false}, "axis": null},
            "y2": {"datum": -2.75264}
          }
        },
        {
          "data": {"name": "f2r"},
          "mark": {"type": "point", "shape": "M-1,-1L1,1M-1,1L1,-1", "filled": false, "stroke": "#ff0000", "strokeWidth": 2, "size": 48, "opacity": 1},
          "encoding": {
            "x": {"field": "x", "type": "quantitative", "scale": {"domain": [0, 14], "nice": false, "zero": false},
              "axis": {"zindex": 2, "orient": "bottom", "values": [0,1,2,3,4,5,6,7,8,9,10,11,12,13,14], "tickSize": 12, "tickColor": "#555555", "tickWidth": 2.5, "domainColor": "#555555", "domainWidth": 2.5,
                "labelExpr": "datum.value == 0 ? f2xrow : ''", "labelAlign": "left", "labelBaseline": "top", "labelOffset": -27, "labelPadding": 5.8, "labelFontSize": 23, "labelLimit": 2000, "labelOverlap": false, "labelFlush": false, "labelBound": false,
                "title": "B-2,E$S@Z;<[$@Z;;T", "titleFontSize": 23, "titleX": 250, "titleY": 66, "titleAlign": "center", "titleBaseline": "alphabetic", "titleLimit": 2000}},
            "y": {"field": "y", "type": "quantitative", "scale": {"domain": [0, 14], "nice": false, "zero": false},
              "axis": {"zindex": 2, "orient": "left", "values": [0,1,2,3,4,5,6,7,8,9,10,11,12,13,14], "tickSize": 12, "tickColor": "#555555", "tickWidth": 2.5, "domainColor": "#555555", "domainWidth": 2.5,
                "labelExpr": "datum.value % 2 == 0 ? f2y[datum.value / 2] : ''", "labelAlign": "left", "labelBaseline": "middle", "labelPadding": {"condition": {"test": "datum.value >= 12", "value": 41}, "value": 49}, "labelFontSize": 22, "labelOverlap": false, "labelFlush": false, "labelBound": false,
                "title": "PJKNMY7<", "titleFontSize": 21, "titleAngle": 270, "titleX": -79.5, "titleY": 269, "titleAlign": "center", "titleBaseline": "alphabetic"}}
          }
        },
        {
          "data": {"name": "f2k"},
          "mark": {"type": "point", "shape": "M-1,-1L1,1M-1,1L1,-1", "filled": false, "stroke": "#000000", "strokeWidth": 2, "size": 48, "opacity": 1},
          "encoding": {
            "x": {"field": "x", "type": "quantitative", "scale": {"domain": [0, 14], "nice": false, "zero": false},
              "axis": {"zindex": 2, "orient": "top", "values": [0,1,2,3,4,5,6,7,8,9,10,11,12,13,14], "tickSize": 12, "tickColor": "#555555", "tickWidth": 2.5, "domainColor": "#555555", "domainWidth": 2.5, "labels": false, "title": null}},
            "y": {"field": "y", "type": "quantitative", "scale": {"domain": [0, 14], "nice": false, "zero": false},
              "axis": {"zindex": 2, "orient": "right", "values": [0,1,2,3,4,5,6,7,8,9,10,11,12,13,14], "tickSize": 12, "tickColor": "#555555", "tickWidth": 2.5, "domainColor": "#555555", "domainWidth": 2.5, "labels": false, "title": null}}
          }
        },
        {
          "data": {"name": "redseg"},
          "mark": {"type": "line", "color": "#ff2020", "strokeWidth": 2},
          "encoding": {
            "x": {"field": "x", "type": "quantitative", "scale": {"domain": [0, 14], "nice": false, "zero": false}, "axis": null},
            "y": {"field": "y", "type": "quantitative", "scale": {"domain": [0, 14], "nice": false, "zero": false}, "axis": null}
          }
        },
        {
          "data": {"name": "diag"},
          "mark": {"type": "line", "color": "#1f1ff5", "strokeWidth": 2.6},
          "encoding": {
            "x": {"field": "x", "type": "quantitative", "scale": {"domain": [0, 14], "nice": false, "zero": false}, "axis": null},
            "y": {"field": "y", "type": "quantitative", "scale": {"domain": [0, 14], "nice": false, "zero": false}, "axis": null}
          }
        },
        {
          "data": {"values": [{}]},
          "mark": {"type": "text", "text": "@%>$](&*(!3$?<<<", "align": "left", "baseline": "alphabetic", "font": "Liberation Sans", "fontSize": 23, "color": "black"},
          "encoding": {
            "x": {"datum": 0.26809, "type": "quantitative", "scale": {"domain": [0, 14], "nice": false, "zero": false}, "axis": null},
            "y": {"datum": 12.994, "type": "quantitative", "scale": {"domain": [0, 14], "nice": false, "zero": false}, "axis": null}
          }
        },
        {
          "data": {"values": [{}]},
          "mark": {"type": "text", "text": "@%>$]*/3$?<<<", "align": "left", "baseline": "alphabetic", "font": "Liberation Sans", "fontSize": 23, "color": "#ff0000"},
          "encoding": {
            "x": {"datum": 1.48936, "type": "quantitative", "scale": {"domain": [0, 14], "nice": false, "zero": false}, "axis": null},
            "y": {"datum": 11.987, "type": "quantitative", "scale": {"domain": [0, 14], "nice": false, "zero": false}, "axis": null}
          }
        },
        {
          "data": {"values": [{}]},
          "mark": {"type": "text", "text": "B,(.2/2,3$K#)*+,-\"&,$S-9+T", "align": "right", "baseline": "alphabetic", "font": "Liberation Sans", "fontSize": 27.5, "color": "black"},
          "encoding": {
            "x": {"datum": 13.82128, "type": "quantitative", "scale": {"domain": [0, 14], "nice": false, "zero": false}, "axis": null},
            "y": {"datum": 0.7696, "type": "quantitative", "scale": {"domain": [0, 14], "nice": false, "zero": false}, "axis": null}
          }
        },
        {
          "data": {"values": [{}]},
          "mark": {"type": "text", "text": "Figure 2", "align": "center", "baseline": "alphabetic", "font": "Lato", "fontWeight": 900, "fontSize": 66, "color": "#1d1d1b"},
          "encoding": {
            "x": {"datum": 5.70426, "type": "quantitative", "scale": {"domain": [0, 14], "nice": false, "zero": false}, "axis": null},
            "y": {"datum": -4.7061, "type": "quantitative", "scale": {"domain": [0, 14], "nice": false, "zero": false}, "axis": null}
          }
        }
      ]
    }
  ]
}
